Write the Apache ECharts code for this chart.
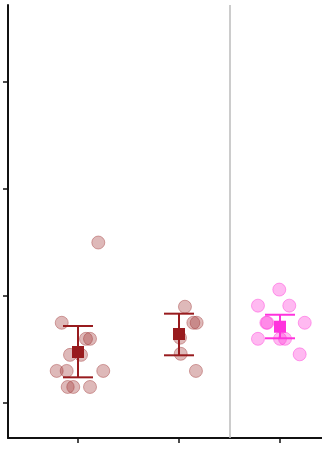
<!DOCTYPE html>
<html><head><meta charset="utf-8">
<script src="https://cdn.jsdelivr.net/npm/echarts@6/dist/echarts.min.js"></script>
<style>html,body{margin:0;padding:0;background:#fff}#c{width:322px;height:449px}</style>
</head><body><div id="c"></div>
<script>
// group positions on x axis
const groupX = [1, 2, 3];
const groupColors = ['#981b1e', '#981b1e', '#ff33dd'];
const pointFill = ['rgba(155,43,43,0.33)', 'rgba(155,43,43,0.33)', 'rgba(255,41,212,0.33)'];
const pointBorder = ['rgba(155,43,43,0.4)', 'rgba(155,43,43,0.4)', 'rgba(255,41,212,0.4)'];
// jittered raw points [x, y]
const group1Points = [[1.201,1.50],[0.839,0.75],[1.079,0.60],[1.119,0.60],[0.921,0.45],[1.030,0.45],[0.789,0.30],[0.888,0.30],[1.250,0.30],[0.898,0.15],[0.953,0.15],[1.119,0.15]];
const group2Points = [[2.059,0.90],[2.142,0.75],[2.175,0.75],[2.010,0.61],[2.017,0.46],[2.168,0.30]];
const group3Points = [[2.993,1.06],[2.782,0.91],[3.092,0.91],[2.865,0.75],[2.875,0.75],[3.245,0.75],[2.782,0.60],[3.000,0.60],[3.050,0.60],[3.195,0.455]];
// summary stats
const means = [0.477, 0.645, 0.713];
const errLow = [0.24, 0.446, 0.605];
const errHigh = [0.72, 0.835, 0.825];
const yTicks = [0, 1, 2, 3];
const dividerX = 2.5;

const pointSets = [group1Points, group2Points, group3Points];
const series = [];
pointSets.forEach((pts, i) => {
  series.push({
    type: 'scatter', data: pts, symbol: 'circle', symbolSize: 13, z: 2,
    itemStyle: { color: pointFill[i], borderColor: pointBorder[i], borderWidth: 1, opacity: 1 },
    silent: true
  });
});
const errData = groupX.map((x, i) => [x, errLow[i], errHigh[i], i]);
series.push({
  type: 'custom', z: 4, silent: true,
  data: errData,
  renderItem: function (params, api) {
    const x = api.value(0), lo = api.value(1), hi = api.value(2), gi = api.value(3);
    const pLo = api.coord([x, lo]), pHi = api.coord([x, hi]);
    const half = 15;
    const style = { stroke: groupColors[gi], lineWidth: 2 };
    return { type: 'group', children: [
      { type: 'line', shape: { x1: pLo[0], y1: pLo[1], x2: pHi[0], y2: pHi[1] }, style },
      { type: 'line', shape: { x1: pLo[0]-half, y1: pLo[1], x2: pLo[0]+half, y2: pLo[1] }, style },
      { type: 'line', shape: { x1: pHi[0]-half, y1: pHi[1], x2: pHi[0]+half, y2: pHi[1] }, style }
    ]};
  }
});
series.push({
  type: 'scatter', z: 5, silent: true, symbol: 'rect', symbolSize: 12,
  data: groupX.map((x, i) => ({ value: [x, means[i]], itemStyle: { color: groupColors[i], opacity: 1 } })),
  markLine: {
    silent: true, symbol: 'none', label: { show: false },
    lineStyle: { color: '#bbbbbb', width: 1.5, type: 'solid' },
    data: [{ xAxis: dividerX }]
  }
});

const chart = echarts.init(document.getElementById('c'), null, { renderer: 'canvas' });
chart.setOption({
  animation: false,
  grid: { left: 8, right: 0, top: 5, bottom: 11, containLabel: false },
  xAxis: {
    type: 'value', min: 0.307, max: 3.416,
    splitLine: { show: false },
    axisLine: { show: true, onZero: false, lineStyle: { color: '#111', width: 2 } },
    axisTick: { show: true, inside: false, length: 5, lineStyle: { color: '#111', width: 1.5 }, customValues: groupX },
    axisLabel: { show: false, customValues: groupX }
  },
  yAxis: {
    type: 'value', min: -0.327, max: 3.72,
    splitLine: { show: false },
    axisLine: { show: true, onZero: false, lineStyle: { color: '#111', width: 2 } },
    axisTick: { show: true, inside: false, length: 5, lineStyle: { color: '#111', width: 1.5 }, customValues: yTicks },
    axisLabel: { show: false, customValues: yTicks }
  },
  series: series
});
</script></body></html>
